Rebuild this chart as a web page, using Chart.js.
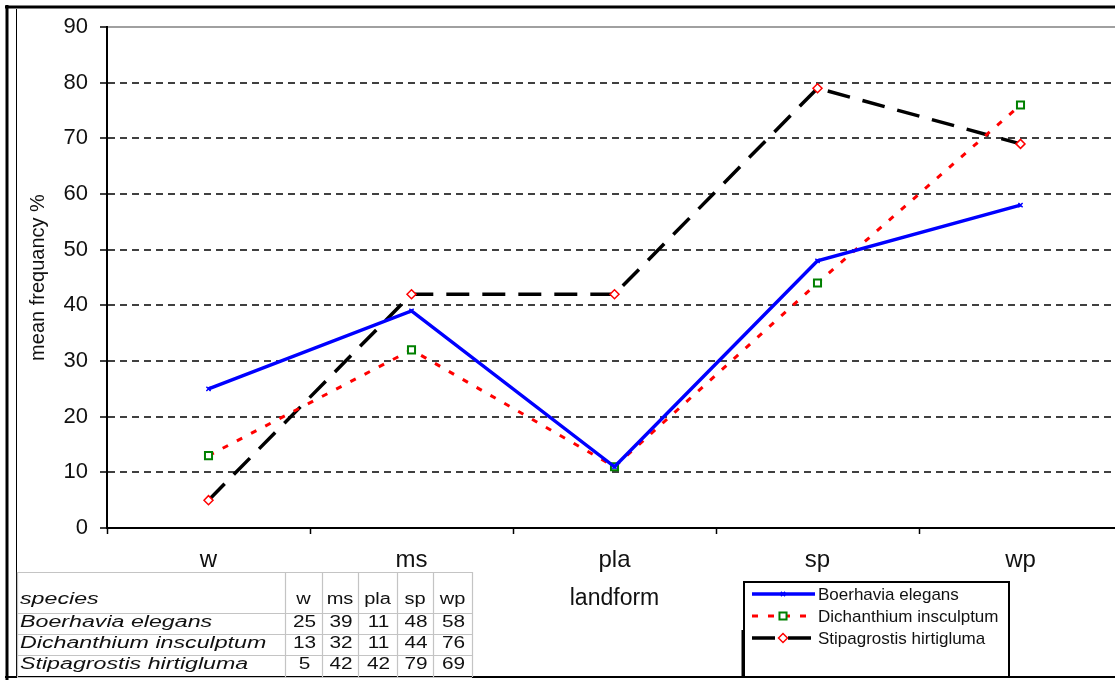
<!DOCTYPE html>
<html>
<head>
<meta charset="utf-8">
<title>Mean frequency by landform</title>
<script src="https://cdn.jsdelivr.net/npm/chart.js@4/dist/chart.umd.min.js"></script>
<style>
  html, body { margin: 0; padding: 0; background: #ffffff; overflow: hidden; }
  #wrap { width: 1140px; height: 680px; position: relative; }
</style>
</head>
<body>
<div id="wrap"><canvas id="chart"></canvas></div>
<script>
// Landform categories along the x axis
const landforms = ['w', 'ms', 'pla', 'sp', 'wp'];
// Species (series) names
const speciesNames = ['Boerhavia elegans', 'Dichanthium insculptum', 'Stipagrostis hirtigluma'];
// Mean frequency (%) per landform
const boerhavia = [25, 39, 11, 48, 58];
const dichanthium = [13, 32, 11, 44, 76];
const stipagrostis = [5, 42, 42, 79, 69];
// Y axis tick values
const yTickValues = [0, 10, 20, 30, 40, 50, 60, 70, 80, 90];

const FONT = '"Liberation Sans", Arial, Helvetica, sans-serif';
const TEXT = '#111111';

// Text drawn with a horizontal stretch factor
function stretchedText(ctx, text, x, y, sx, align) {
  ctx.save();
  ctx.translate(x, y);
  ctx.scale(sx, 1);
  ctx.textAlign = align;
  ctx.textBaseline = 'alphabetic';
  ctx.fillText(text, 0, 0);
  ctx.restore();
}

// White page background
const pageBackground = {
  id: 'pageBackground',
  beforeDraw(chart) {
    const ctx = chart.ctx;
    ctx.save();
    ctx.fillStyle = '#ffffff';
    ctx.fillRect(0, 0, chart.width, chart.height);
    ctx.restore();
  }
};

// Outer frame, data table and series key
const extras = {
  id: 'extras',
  afterDraw(chart) {
    const ctx = chart.ctx;
    ctx.save();

    // frame
    ctx.strokeStyle = '#000000';
    ctx.lineWidth = 3;
    ctx.beginPath();
    ctx.moveTo(5, 7); ctx.lineTo(chart.width, 7);
    ctx.moveTo(7, 5); ctx.lineTo(7, 680);
    ctx.stroke();
    ctx.lineWidth = 2;
    ctx.beginPath();
    ctx.moveTo(5, 677); ctx.lineTo(chart.width, 677);
    ctx.stroke();
    ctx.lineWidth = 1;
    ctx.beginPath();
    ctx.moveTo(16.5, 9); ctx.lineTo(16.5, 677);
    ctx.stroke();

    // data table
    const cols = [17, 285, 322, 358, 397, 433, 472];
    const rows = [572, 613, 634, 655, 677];
    ctx.strokeStyle = '#c4c4c4';
    ctx.lineWidth = 1.2;
    ctx.beginPath();
    rows.forEach(r => { ctx.moveTo(cols[0], r + 0.5); ctx.lineTo(cols[cols.length - 1], r + 0.5); });
    cols.forEach(c => { ctx.moveTo(c + 0.5, rows[0]); ctx.lineTo(c + 0.5, rows[rows.length - 1]); });
    ctx.stroke();

    ctx.fillStyle = TEXT;
    ctx.font = 'italic 16px ' + FONT;
    stretchedText(ctx, 'species', 20, 604, 1.45, 'left');
    ctx.font = '16px ' + FONT;
    landforms.forEach((lf, j) => {
      stretchedText(ctx, lf, (cols[j + 1] + cols[j + 2]) / 2, 604, 1.25, 'center');
    });
    const tableSeries = [boerhavia, dichanthium, stipagrostis];
    const baselines = [627, 648, 669];
    tableSeries.forEach((vals, i) => {
      ctx.font = 'italic 16px ' + FONT;
      stretchedText(ctx, speciesNames[i], 20, baselines[i], 1.45, 'left');
      ctx.font = '16px ' + FONT;
      vals.forEach((v, j) => {
        stretchedText(ctx, String(v), (cols[j + 1] + cols[j + 2]) / 2 + 1, baselines[i], 1.3, 'center');
      });
    });

    // series key
    ctx.fillStyle = '#ffffff';
    ctx.fillRect(744, 582, 265, 95);
    ctx.strokeStyle = '#000000';
    ctx.lineWidth = 2;
    ctx.strokeRect(744, 582, 265, 95);
    ctx.lineWidth = 3;
    ctx.beginPath();
    ctx.moveTo(743, 630); ctx.lineTo(743, 677);
    ctx.stroke();

    chart.data.datasets.forEach((ds, i) => {
      const y = 594 + i * 22;
      ctx.save();
      ctx.strokeStyle = ds.borderColor;
      ctx.lineWidth = ds.borderWidth;
      ctx.setLineDash(ds.borderDash || []);
      ctx.beginPath();
      ctx.moveTo(752, y); ctx.lineTo(815, y);
      ctx.stroke();
      ctx.restore();
      ctx.save();
      ctx.fillStyle = ds.pointBackgroundColor;
      ctx.strokeStyle = ds.pointBorderColor;
      ctx.lineWidth = ds.pointBorderWidth;
      Chart.helpers.drawPoint(ctx, {
        pointStyle: ds.pointStyle,
        radius: ds.pointRadius,
        borderWidth: ds.pointBorderWidth,
        rotation: 0
      }, 783, y);
      ctx.restore();
      ctx.fillStyle = TEXT;
      ctx.font = '17px ' + FONT;
      ctx.textAlign = 'left';
      ctx.textBaseline = 'alphabetic';
      ctx.fillText(ds.label, 818, y + 6);
    });

    ctx.restore();
  }
};

new Chart(document.getElementById('chart'), {
  type: 'line',
  data: {
    labels: landforms,
    datasets: [
      {
        label: speciesNames[0],
        data: boerhavia,
        borderColor: '#0000ff',
        borderWidth: 3.5,
        borderDash: [],
        pointStyle: 'crossRot',
        pointRadius: 3,
        pointBorderColor: '#0000ff',
        pointBackgroundColor: '#0000ff',
        pointBorderWidth: 1.5,
        tension: 0
      },
      {
        label: speciesNames[1],
        data: dichanthium,
        borderColor: '#ff0000',
        borderWidth: 3,
        borderDash: [6, 10],
        pointStyle: 'rect',
        pointRadius: 5,
        pointBorderColor: '#008000',
        pointBackgroundColor: '#ffffff',
        pointBorderWidth: 2,
        tension: 0
      },
      {
        label: speciesNames[2],
        data: stipagrostis,
        borderColor: '#000000',
        borderWidth: 3.5,
        borderDash: [23, 13],
        pointStyle: 'rectRot',
        pointRadius: 4.5,
        pointBorderColor: '#ff0000',
        pointBackgroundColor: '#ffffff',
        pointBorderWidth: 1.5,
        tension: 0
      }
    ]
  },
  options: {
    responsive: true,
    maintainAspectRatio: false,
    animation: false,
    layout: { padding: { left: 0, top: 27, right: 18, bottom: 68 } },
    plugins: {
      legend: { display: false },
      tooltip: { enabled: false }
    },
    scales: {
      x: {
        offset: true,
        grid: {
          offset: true,
          drawOnChartArea: false,
          drawTicks: true,
          tickLength: 6,
          tickColor: '#000000',
          tickWidth: 1.5
        },
        border: { color: '#000000', width: 2 },
        ticks: { color: TEXT, font: { family: FONT, size: 24 }, padding: 12 },
        title: {
          display: true,
          text: 'landform',
          color: TEXT,
          font: { family: FONT, size: 23, lineHeight: 1.2 },
          padding: { top: 0, bottom: 0 }
        },
        afterFit: s => { s.height = 84; }
      },
      y: {
        min: 0,
        max: 90,
        afterBuildTicks: s => { s.ticks = yTickValues.map(v => ({ value: v })); },
        grid: {
          color: c => (c.tick && c.tick.value === 90) ? '#a0a0a0' : '#404040',
          lineWidth: 2,
          drawTicks: true,
          tickLength: 7,
          tickColor: '#000000',
          tickWidth: 1.5
        },
        border: {
          color: '#000000',
          width: 2,
          dash: c => (c.tick && c.tick.value === 90) ? [] : [7, 5]
        },
        ticks: { color: TEXT, font: { family: FONT, size: 22 }, padding: 12 },
        title: {
          display: true,
          text: 'mean frequancy %',
          color: TEXT,
          font: { family: FONT, size: 20, lineHeight: 1.2 },
          padding: { top: 26, bottom: 0 }
        },
        afterFit: s => { s.width = 107; }
      }
    }
  },
  plugins: [pageBackground, extras]
});
</script>
</body>
</html>
